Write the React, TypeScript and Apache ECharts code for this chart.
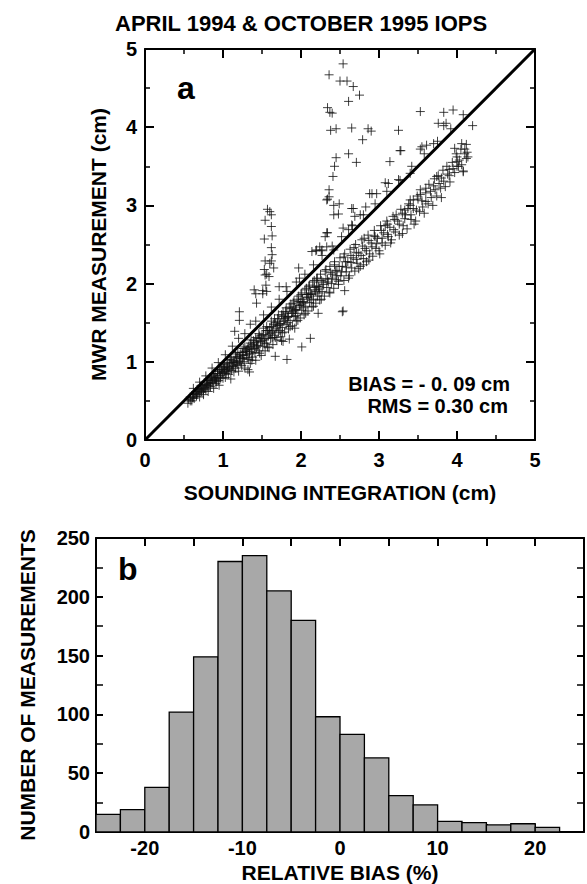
import React, { useEffect, useRef } from 'react';
import * as echarts from 'echarts';

const FONT = "'Liberation Sans', Arial, Helvetica, sans-serif";

const TITLE = 'APRIL 1994 & OCTOBER 1995 IOPS';
const SCATTER_X_NAME = 'SOUNDING INTEGRATION (cm)';
const SCATTER_Y_NAME = 'MWR MEASUREMENT (cm)';
const HIST_X_NAME = 'RELATIVE BIAS (%)';
const HIST_Y_NAME = 'NUMBER OF MEASUREMENTS';
const BIAS_TEXT = 'BIAS = - 0. 09 cm';
const RMS_TEXT = 'RMS = 0.30 cm';

// one-to-one reference line (cm)
const oneToOne = [[0, 0], [5, 5]];

// main band of points (sounding cm, MWR cm)
const bandPoints = [
  [0.55,0.47],[0.56,0.52],[0.58,0.55],[0.60,0.50],[0.62,0.58],[0.63,0.53],[0.65,0.62],[0.66,0.56],[0.68,0.60],[0.70,0.55],
  [0.70,0.66],[0.72,0.62],[0.74,0.68],[0.75,0.58],[0.77,0.71],[0.78,0.64],[0.80,0.70],[0.81,0.62],[0.83,0.76],[0.84,0.68],
  [0.86,0.73],[0.87,0.80],[0.88,0.66],[0.90,0.78],[0.91,0.72],[0.93,0.85],[0.94,0.76],[0.95,0.70],[0.97,0.82],[0.98,0.90],
  [1.00,0.79],[1.00,0.86],[1.02,0.93],[1.03,0.80],[1.05,0.88],[1.06,0.96],[1.07,0.84],[1.09,0.91],[1.10,0.78],[1.11,1.02],
  [1.12,0.94],[1.14,0.87],[1.15,1.00],[1.16,0.92],[1.18,1.07],[1.19,0.97],[1.20,0.88],[1.22,1.04],[1.23,1.12],[1.24,0.95],
  [1.26,1.08],[1.27,1.00],[1.28,0.92],[1.30,1.14],[1.31,1.05],[1.33,1.20],[1.34,1.10],[1.35,0.98],[1.37,1.16],[1.38,1.06],
  [1.40,1.24],[1.41,1.12],[1.42,1.02],[1.44,1.20],[1.45,1.30],[1.46,1.14],[1.48,1.26],[1.49,1.08],[1.50,1.34],[1.51,1.20],
  [1.53,1.28],[1.54,1.14],[1.55,1.40],[1.56,1.24],[1.58,1.33],[1.59,1.18],[1.60,1.44],[1.61,1.30],[1.63,1.38],[1.64,1.22],
  [1.65,1.48],[1.66,1.34],[1.68,1.42],[1.69,1.28],[1.70,1.55],[1.71,1.38],[1.73,1.47],[1.74,1.32],[1.75,1.60],[1.76,1.44],
  [1.78,1.52],[1.79,1.38],[1.80,1.64],[1.81,1.48],[1.83,1.57],[1.84,1.42],[1.85,1.70],[1.86,1.53],[1.88,1.62],[1.89,1.46],
  [1.90,1.75],[1.91,1.58],[1.93,1.66],[1.94,1.52],[1.95,1.80],[1.96,1.62],[1.98,1.72],[1.99,1.56],[2.00,1.86],[2.01,1.66],
  [2.03,1.77],[2.04,1.60],[2.05,1.92],[2.06,1.71],[2.08,1.82],[2.09,1.65],[2.10,1.96],[2.11,1.76],[2.13,1.87],[2.14,1.70],
  [2.15,2.02],[2.16,1.80],[2.18,1.92],[2.19,1.75],[2.20,2.06],[2.21,1.84],[2.23,1.96],[2.24,1.79],[2.25,2.12],[2.27,1.90],
  [2.28,2.02],[2.30,1.84],[2.31,2.16],[2.33,1.95],[2.34,2.06],[2.36,1.89],[2.37,2.22],[2.39,2.00],[2.40,2.12],[2.42,1.94],
  [2.43,2.28],[2.45,2.05],[2.46,2.17],[2.48,1.99],[2.50,2.33],[2.51,2.10],[2.53,2.22],[2.55,2.04],[2.56,2.38],[2.58,2.15],
  [2.60,2.28],[2.62,2.10],[2.63,2.44],[2.65,2.20],[2.67,2.33],[2.69,2.16],[2.70,2.50],[2.72,2.26],[2.74,2.39],[2.76,2.22],
  [2.78,2.56],[2.80,2.32],[2.82,2.45],[2.84,2.28],[2.86,2.62],[2.88,2.38],[2.90,2.52],[2.92,2.35],[2.94,2.68],[2.96,2.45],
  [2.98,2.58],[3.00,2.42],[3.02,2.74],[3.04,2.52],[3.06,2.65],[3.08,2.49],[3.10,2.80],[3.12,2.60],[3.14,2.72],[3.16,2.56],
  [3.18,2.86],[3.21,2.66],[3.24,2.80],[3.26,2.62],[3.28,2.95],[3.31,2.74],[3.34,2.88],[3.36,2.70],[3.38,3.02],[3.41,2.82],
  [3.44,2.96],[3.47,2.80],[3.49,3.12],[3.52,2.92],[3.55,3.06],[3.58,2.90],[3.60,3.22],[3.63,3.02],[3.66,3.18],[3.69,3.00],
  [3.71,3.34],[3.74,3.12],[3.77,3.28],[3.80,3.10],[3.82,3.45],[3.85,3.24],[3.88,3.40],[3.91,3.30],[3.94,3.55],[3.97,3.42],
  [4.00,3.62],[4.02,3.50],[4.05,3.72],[4.08,3.44],[4.10,3.66],[4.12,3.78]
];

const bandCore = [
  [0.62,0.55],[0.67,0.60],[0.72,0.65],[0.76,0.66],[0.79,0.73],[0.82,0.72],[0.85,0.78],[0.89,0.79],[0.92,0.80],[0.96,0.88],
  [0.99,0.86],[1.01,0.92],[1.04,0.90],[1.08,0.98],[1.13,0.99],[1.17,1.05],[1.21,1.06],[1.25,1.12],[1.29,1.13],[1.32,1.18],
  [1.36,1.20],[1.39,1.27],[1.43,1.25],[1.47,1.33],[1.52,1.35],[1.57,1.40],[1.62,1.45],[1.67,1.50],[1.72,1.52],[1.77,1.58],
  [1.82,1.62],[1.87,1.68],[1.92,1.70],[1.97,1.77],[2.02,1.80],[2.07,1.86],[2.12,1.88],[2.17,1.95],[2.22,1.97],[2.26,2.04],
  [2.32,2.06],[2.38,2.14],[2.44,2.16],[2.49,2.22],[2.57,2.28],[2.64,2.36],[2.71,2.40],[2.79,2.48],[2.87,2.55],[2.95,2.60],
  [3.03,2.68],[3.11,2.76],[3.20,2.82],[3.30,2.90],[3.40,3.00],[3.50,3.08],[3.60,3.16],[3.70,3.25],[3.80,3.35],[3.90,3.46],
  [4.00,3.56]
];

const bandExtra = [
  [0.64,0.59],[0.69,0.63],[0.71,0.69],[0.73,0.61],[0.77,0.67],[0.80,0.76],[0.82,0.69],[0.85,0.81],[0.87,0.74],[0.90,0.83],
  [0.92,0.75],[0.95,0.90],[0.97,0.79],[1.01,0.97],[1.04,0.85],[1.06,0.91],[1.09,1.03],[1.11,0.89],[1.13,0.95],[1.16,1.10],
  [1.18,0.96],[1.21,1.01],[1.23,0.98],[1.26,1.17],[1.27,1.05],[1.30,1.09],[1.33,1.03],[1.35,1.24],[1.37,1.11],[1.40,1.17],
  [1.42,1.31],[1.45,1.21],[1.47,1.11],[1.50,1.27],[1.52,1.43],[1.55,1.30],[1.57,1.19],[1.60,1.36],[1.62,1.52],[1.64,1.40],
  [1.67,1.31],[1.69,1.46],[1.71,1.60],[1.74,1.49],[1.76,1.37],[1.79,1.55],[1.81,1.69],[1.84,1.58],[1.86,1.45],[1.89,1.64],
  [1.91,1.78],[1.94,1.67],[1.96,1.53],[1.99,1.73],[2.01,1.88],[2.04,1.75],[2.06,1.62],[2.09,1.83],[2.11,1.98],[2.14,1.86],
  [2.16,1.71],[2.19,1.90],[2.21,2.07],[2.24,1.93],[2.26,1.80],[2.29,1.99],[2.32,2.18],[2.35,2.02],[2.37,1.88],[2.40,2.07],
  [2.43,2.24],[2.46,2.10],[2.48,2.03],[2.52,2.15],[2.55,2.34],[2.58,2.21],[2.61,2.07],[2.64,2.27],[2.68,2.46],[2.71,2.31],
  [2.74,2.19],[2.77,2.36],[2.81,2.58],[2.84,2.42],[2.87,2.30],[2.91,2.47],[2.94,2.61],[2.97,2.51],[3.01,2.38],[3.04,2.58],
  [3.08,2.74],[3.11,2.63],[3.15,2.52],[3.19,2.69],[3.22,2.88],[3.26,2.76],[3.30,2.64],[3.33,2.83],[3.37,2.96],[3.41,2.88],
  [3.45,2.76],[3.48,2.94],[3.53,3.14],[3.56,2.98],[3.60,3.05],[3.64,3.27],[3.67,3.10],[3.72,3.20],[3.76,3.38],[3.79,3.22],
  [3.83,3.31],[3.87,3.50],[3.90,3.38],[3.95,3.47],[3.99,3.66],[4.03,3.58],[4.06,3.52],[4.10,3.72],[4.14,3.62],
  [0.58,0.50],[0.61,0.54],[0.66,0.58],[0.68,0.65],[0.73,0.70],[0.75,0.64],[0.79,0.70],[0.81,0.78],[0.84,0.73],[0.88,0.85],
  [0.91,0.77],[0.93,0.88],[0.96,0.83],[0.99,0.94],[1.02,0.88],[1.05,0.99],[1.08,0.93],[1.10,1.06],[1.14,1.01],[1.17,0.99],
  [1.19,1.12],[1.22,1.09],[1.25,1.04],[1.28,1.19],[1.31,1.16],[1.34,1.13],[1.36,1.28],[1.39,1.22],[1.43,1.18],[1.46,1.36],
  [1.49,1.30],[1.53,1.23],[1.56,1.45],[1.59,1.38],[1.63,1.31],[1.66,1.55],[1.70,1.47],[1.73,1.40],[1.77,1.64],[1.80,1.56],
  [1.83,1.50],[1.87,1.74],[1.90,1.66],[1.93,1.59],[1.97,1.84],[2.00,1.76],[2.03,1.69],[2.07,1.94],[2.10,1.86],[2.13,1.79],
  [2.17,2.04],[2.20,1.96],[2.23,1.88]
];

const bandUpperFringe = [
  [0.62,0.66],[0.70,0.74],[0.78,0.82],[0.86,0.92],[0.94,0.99],[1.03,1.09],[1.12,1.20],[1.20,1.30],[1.28,1.36],[1.35,1.48],
  [1.42,1.52],[1.52,1.60],[1.62,1.70],[1.72,1.80],[1.82,1.90],[1.94,2.02],[2.05,2.12],[2.16,2.24],[2.27,2.36],[2.40,2.48],
  [2.52,2.60],[2.66,2.74],[2.80,2.88],[2.95,3.02],[3.10,3.18],[3.25,3.33],[3.42,3.50],[3.58,3.66],[3.75,3.82],[3.92,3.98]
];

const outlierPoints = [
  [2.54,4.81],[2.36,4.67],[2.50,4.59],[2.59,4.59],[2.67,4.52],[2.75,4.41],[2.61,4.33],[2.34,4.25],[2.37,4.19],[2.40,4.18],
  [2.38,3.96],[2.45,3.98],[2.65,3.99],[2.86,3.98],[2.90,3.95],[2.79,3.84],[3.25,3.96],[3.53,4.20],[3.83,4.19],[3.95,4.22],
  [4.08,4.16],[3.86,4.05],[3.76,4.05],[3.83,4.02],[4.20,4.02],[2.61,3.66],[2.45,3.61],[2.43,3.50],[2.71,3.55],[3.14,3.56],
  [3.27,3.70],[3.53,3.72],[2.41,3.37],[2.36,3.20],[2.34,3.08],[2.49,3.02],[2.48,2.89],[2.65,2.96],[2.34,2.65],[2.19,2.42],
  [2.26,2.42],[2.56,1.91],
  [1.57,2.95],[1.60,2.92],[1.54,2.81],[1.62,2.88],[1.62,2.73],[1.63,2.61],[1.53,2.57],[1.62,2.46],[1.63,2.37],[1.62,2.29],
  [1.54,2.29],[1.65,2.20],[1.53,2.18],[1.56,2.12],[1.59,2.09],[1.55,1.98],[1.40,1.92],[1.51,1.91],[1.72,1.96],[1.81,1.96],
  [1.42,1.87],[1.56,1.90],[1.97,2.20],[1.98,2.07],[2.33,3.07],[2.36,3.11],[2.42,2.88],[2.42,3.00],[2.33,2.65],[2.31,2.60],
  [2.20,2.43],[2.14,2.41],[2.27,2.43],
  [2.83,2.98],[2.91,3.15],[3.08,3.29],[3.44,3.07],[3.33,2.94],[2.53,1.64],[2.22,1.62],[2.80,2.24],[4.08,3.43],[4.06,3.79],
  [4.12,3.60],[3.74,3.37],[3.97,3.73],[4.00,3.50],[4.13,3.68],[3.40,3.07],[3.53,3.20],
  [2.24,2.47],[2.33,2.47],[2.42,2.43],[2.54,2.71],[2.61,2.69],[2.65,2.75],[2.67,2.96],[2.69,2.86],[2.76,2.88],[2.88,3.15],
  [2.97,3.15],[3.12,3.28],[3.27,3.32],[3.40,3.41],[3.55,3.75],[3.61,3.77],[3.70,3.79],
  [1.60,2.26],[1.54,2.11],[1.43,1.75],[1.21,1.64],[1.21,1.53],[1.15,1.39],[2.54,1.65],[1.92,1.43],[1.85,1.29],[1.75,1.27],
  [2.12,1.30],[2.01,1.19],[1.67,1.07],[1.82,1.03],[1.37,1.02],[1.34,0.87],[1.77,1.26],[1.32,0.90],[1.51,1.87],[3.28,3.70]
];

// histogram of relative bias (%)
const binStarts = [-25,-22.5,-20,-17.5,-15,-12.5,-10,-7.5,-5,-2.5,0,2.5,5,7.5,10,12.5,15,17.5,20];
const binWidth = 2.5;
const binCounts = [15,19,38,102,149,230,235,205,180,98,83,63,31,23,9,8,6,7,4];
const histXLabels = [-20,-10,0,10,20];

const App: React.FC = () => {
  const ref = useRef<HTMLDivElement>(null);

  useEffect(() => {
    document.body.style.margin = '0';
    if (!ref.current) return;
    const chart = echarts.init(ref.current, null, { renderer: 'svg' });

    const black = '#000';
    const labelStyle = { color: black, fontSize: 20, fontWeight: 'bold' as const, fontFamily: FONT };
    const nameStyle = { color: black, fontSize: 21, fontWeight: 'bold' as const, fontFamily: FONT };
    const axisLine = { show: true, onZero: false, lineStyle: { color: black, width: 2 } };

    const scatterX = (pos: string, show: boolean) => ({
      type: 'value', gridIndex: 0, position: pos, min: 0, max: 5, interval: 1,
      axisLine,
      axisTick: { show: true, inside: true, length: 9, lineStyle: { color: black, width: 2 } },
      minorTick: { show: true, splitNumber: 2, length: 5, lineStyle: { color: black, width: 1.5 } },
      splitLine: { show: false },
      axisLabel: { show, margin: 10, ...labelStyle },
      ...(show ? { name: SCATTER_X_NAME, nameLocation: 'middle', nameGap: 42, nameTextStyle: nameStyle } : {})
    });
    const scatterY = (pos: string, show: boolean) => ({
      type: 'value', gridIndex: 0, position: pos, min: 0, max: 5, interval: 1,
      axisLine,
      axisTick: { show: true, inside: true, length: 9, lineStyle: { color: black, width: 2 } },
      minorTick: { show: true, splitNumber: 2, length: 5, lineStyle: { color: black, width: 1.5 } },
      splitLine: { show: false },
      axisLabel: { show, margin: 8, ...labelStyle },
      ...(show ? { name: SCATTER_Y_NAME, nameLocation: 'middle', nameGap: 36, nameTextStyle: nameStyle } : {})
    });
    const histX = (pos: string, show: boolean) => ({
      type: 'value', gridIndex: 1, position: pos, min: -25, max: 25, interval: 5,
      axisLine,
      axisTick: { show: true, inside: true, length: 8, lineStyle: { color: black, width: 2 } },
      splitLine: { show: false },
      axisLabel: {
        show, margin: 6, ...labelStyle,
        formatter: (v: number) => (histXLabels.indexOf(v) >= 0 ? String(v) : '')
      },
      ...(show ? { name: HIST_X_NAME, nameLocation: 'middle', nameGap: 30, nameTextStyle: nameStyle } : {})
    });
    const histY = (pos: string, show: boolean) => ({
      type: 'value', gridIndex: 1, position: pos, min: 0, max: 250, interval: 50,
      axisLine,
      axisTick: { show: true, inside: true, length: 7, lineStyle: { color: black, width: 2 } },
      minorTick: { show: true, splitNumber: 2, length: 7, lineStyle: { color: black, width: 1.5 } },
      splitLine: { show: false },
      axisLabel: { show, margin: 6, ...labelStyle },
      ...(show ? { name: HIST_Y_NAME, nameLocation: 'middle', nameGap: 58, nameTextStyle: nameStyle } : {})
    });

    const crossSymbol = 'path://M5,0L5,10M0,5L10,5';
    const scatterStyle = { color: 'rgba(0,0,0,0)', borderColor: '#111', borderWidth: 1 };

    const histData = binStarts.map((s, i) => [s, s + binWidth, binCounts[i]]);

    chart.setOption({
      animation: false,
      backgroundColor: '#fff',
      title: {
        text: TITLE, left: 110, top: 7,
        textStyle: { color: black, fontSize: 22, fontWeight: 'bold', fontFamily: FONT }
      },
      grid: [
        { left: 145, top: 49, width: 390, height: 391 },
        { left: 96, top: 538, width: 488, height: 294 }
      ],
      xAxis: [scatterX('bottom', true), scatterX('top', false), histX('bottom', true), histX('top', false)],
      yAxis: [scatterY('left', true), scatterY('right', false), histY('left', true), histY('right', false)],
      series: [
        {
          type: 'scatter', xAxisIndex: 0, yAxisIndex: 0,
          data: [...bandPoints, ...bandCore, ...bandExtra, ...bandUpperFringe, ...outlierPoints],
          symbol: crossSymbol, symbolSize: 9, itemStyle: scatterStyle, z: 2
        },
        {
          type: 'line', xAxisIndex: 0, yAxisIndex: 0, data: oneToOne,
          symbol: 'none', lineStyle: { color: black, width: 3 }, z: 3
        },
        {
          type: 'custom', xAxisIndex: 2, yAxisIndex: 2, data: histData,
          encode: { x: [0, 1], y: 2 },
          renderItem: (params: any, api: any) => {
            const p0 = api.coord([api.value(0), api.value(2)]);
            const p1 = api.coord([api.value(1), 0]);
            return {
              type: 'rect',
              shape: { x: p0[0], y: p0[1], width: p1[0] - p0[0], height: p1[1] - p0[1] },
              style: { fill: '#a8a8a8', stroke: black, lineWidth: 1.3 }
            };
          }
        }
      ],
      graphic: [
        { type: 'text', x: 177, y: 88, style: { text: 'a', fill: black, font: `bold 32px ${FONT}`, textVerticalAlign: 'middle' } },
        { type: 'text', x: 118, y: 569, style: { text: 'b', fill: black, font: `bold 32px ${FONT}`, textVerticalAlign: 'middle' } },
        { type: 'text', x: 510, y: 384, style: { text: BIAS_TEXT, fill: black, font: `bold 20px ${FONT}`, textAlign: 'right', textVerticalAlign: 'middle' } },
        { type: 'text', x: 508, y: 406, style: { text: RMS_TEXT, fill: black, font: `bold 20px ${FONT}`, textAlign: 'right', textVerticalAlign: 'middle' } }
      ]
    });

    return () => chart.dispose();
  }, []);

  return <div ref={ref} style={{ width: 587, height: 884 }} />;
};

export default App;
